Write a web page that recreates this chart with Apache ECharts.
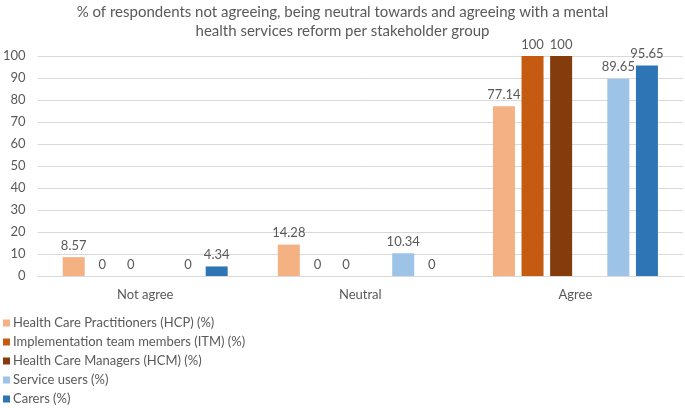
<!DOCTYPE html>
<html>
<head>
<meta charset="utf-8">
<script src="https://cdn.jsdelivr.net/npm/echarts@6/dist/echarts.min.js"></script>
<style>html,body{margin:0;padding:0;background:#fff;}#c{width:685px;height:408px;}</style>
</head>
<body>
<div id="c"></div>
<script>
var categories = ['Not agree', 'Neutral', 'Agree'];
var hcp = [8.57, 14.28, 77.14];
var itm = [0, 0, 100];
var hcm = [0, 0, 100];
var spacer = [null, null, null];
var serviceUsers = [0, 10.34, 89.65];
var carers = [4.34, 0, 95.65];
var seriesNames = ['Health Care Practitioners (HCP) (%)', 'Implementation team members (ITM) (%)', 'Health Care Managers (HCM) (%)', 'Service users (%)', 'Carers (%)'];
var yTicks = [0, 10, 20, 30, 40, 50, 60, 70, 80, 90, 100];

var FONT = 'Lato';
var TXT = '#595959';
function bar(name, data, color) {
  return {
    name: name, type: 'bar', data: data, barWidth: 22, barGap: '30%',
    itemStyle: { color: color },
    label: { show: true, position: 'top', distance: 5, color: TXT, fontSize: 13, fontFamily: FONT },
    emphasis: { disabled: true }
  };
}
var chart = echarts.init(document.getElementById('c'), null, { renderer: 'canvas' });
chart.setOption({
  animation: false,
  title: {
    text: '% of respondents not agreeing, being neutral towards and agreeing with a mental\nhealth services reform per stakeholder group',
    left: 'center', top: -2,
    textStyle: { fontFamily: FONT, fontSize: 15, fontWeight: 'normal', color: TXT, lineHeight: 19 }
  },
  legend: {
    orient: 'vertical', left: 0, top: 314, height: 110, itemWidth: 7, itemHeight: 7, itemGap: 5, icon: 'rect',
    padding: [2, 3, 0, 3],
    data: seriesNames,
    textStyle: { fontFamily: FONT, fontSize: 13, color: TXT, lineHeight: 14, padding: [0, 0, 0, -2] }
  },
  grid: { left: 35, right: 2, top: 56, bottom: 132 },
  xAxis: {
    type: 'category', data: categories,
    axisTick: { show: false },
    axisLine: { lineStyle: { color: '#d9d9d9' } },
    axisLabel: { color: TXT, fontFamily: FONT, fontSize: 13, margin: 12 }
  },
  yAxis: {
    type: 'value', min: yTicks[0], max: yTicks[yTicks.length - 1], interval: 10,
    axisLine: { show: false }, axisTick: { show: false },
    splitLine: { lineStyle: { color: '#d9d9d9' } },
    axisLabel: { color: TXT, fontFamily: FONT, fontSize: 13, margin: 12 }
  },
  series: [
    bar(seriesNames[0], hcp, '#F4B183'),
    bar(seriesNames[1], itm, '#C55A11'),
    bar(seriesNames[2], hcm, '#843C0C'),
    { name: 'spacer', type: 'bar', data: spacer, barWidth: 22, barGap: '30%' },
    bar(seriesNames[3], serviceUsers, '#9DC3E6'),
    bar(seriesNames[4], carers, '#2E75B6')
  ]
});
</script>
</body>
</html>
